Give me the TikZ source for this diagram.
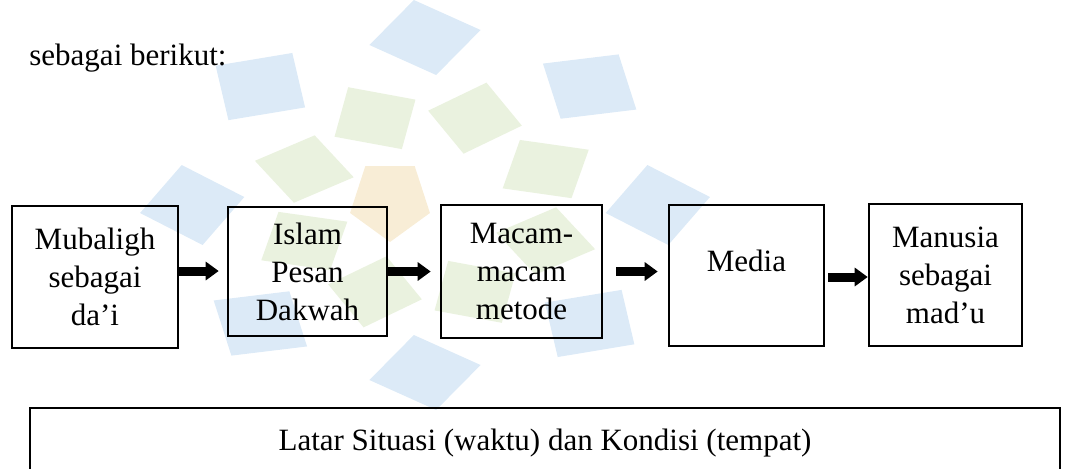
\documentclass[tikz,border=0pt]{standalone}
\usepackage{fontspec}
\setmainfont{Liberation Serif}
\usetikzlibrary{arrows.meta, positioning, calc}

\definecolor{logobiru}{RGB}{220,234,247}
\definecolor{logohijau}{RGB}{234,242,223}
\definecolor{logojingga}{RGB}{248,237,214}

\tikzset{
    kotak/.style={
        rectangle,
        draw=black,
        line width=1.3pt,
        align=center,
        inner sep=0pt,
        font=\fontsize{15.5}{19}\selectfont
    },
    panah/.style={
        line width=4.5pt,
        -{Triangle[length=6.5pt,width=9pt]}
    }
}

\begin{document}
\begin{tikzpicture}[x=0.5pt, y=-0.5pt]
                    \useasboundingbox (0,0) rectangle (1068,468);

                    % logo samar di latar
                    \begin{scope}[shift={(425,205)}, xscale=1.39]
                        \foreach \a in {0,45,...,315}
                            \fill[logobiru, rotate=\a] (130,8) -- (160,-40) -- (205,-8) -- (175,40) -- cycle;
                        \foreach \a in {22.5,67.5,...,337.5}
                            \fill[logohijau, rotate=\a] (58,6) -- (88,-34) -- (130,-6) -- (100,34) -- cycle;
                    \end{scope}
                    \fill[logojingga] (390,200) +(90:42) -- +(162:42) -- +(234:42) -- +(306:42) -- +(18:42) -- cycle;

                    \node[
                        anchor=base west,
                        inner sep=0pt,
                        font=\fontsize{15.5}{19}\selectfont
                    ] (judul) at (29,65) {sebagai berikut:};

                    \node[kotak, minimum width=83pt, minimum height=71pt]
                        (mubaligh) at (95,277) {Mubaligh\\sebagai\\da’i};
                    \node[kotak, minimum width=79.5pt, minimum height=64.5pt]
                        (pesan) at (307.5,271.5) {Islam\\Pesan\\Dakwah};
                    \node[kotak, minimum width=80.5pt, minimum height=66.5pt]
                        (metode) at (521.5,271.5) {Macam-\\macam\\metode};
                    \node[kotak, minimum width=77.5pt, minimum height=70.5pt, text depth=15pt]
                        (media) at (746.5,275.5) {Media};
                    \node[kotak, minimum width=76.5pt, minimum height=71pt]
                        (madu) at (945.5,275) {Manusia\\sebagai\\mad’u};

                    \draw[panah, shorten >=4pt]
                        ([yshift=3pt]mubaligh.east) -- ([yshift=3pt]mubaligh.east -| pesan.west);
                    \draw[panah, shorten >=4.5pt]
                        (pesan.east) -- (pesan.east -| metode.west);
                    \draw[panah, shorten <=6.5pt, shorten >=5pt]
                        (metode.east) -- (metode.east -| media.west);
                    \draw[panah, shorten <=1.5pt]
                        ([yshift=-0.75pt]media.east) -- ([yshift=-0.75pt]media.east -| madu.west);

                    \node[kotak, minimum width=515pt, minimum height=35pt]
                        (latar) at (545,443) {Latar Situasi (waktu) dan Kondisi (tempat)};
                \end{tikzpicture}
\end{document}
